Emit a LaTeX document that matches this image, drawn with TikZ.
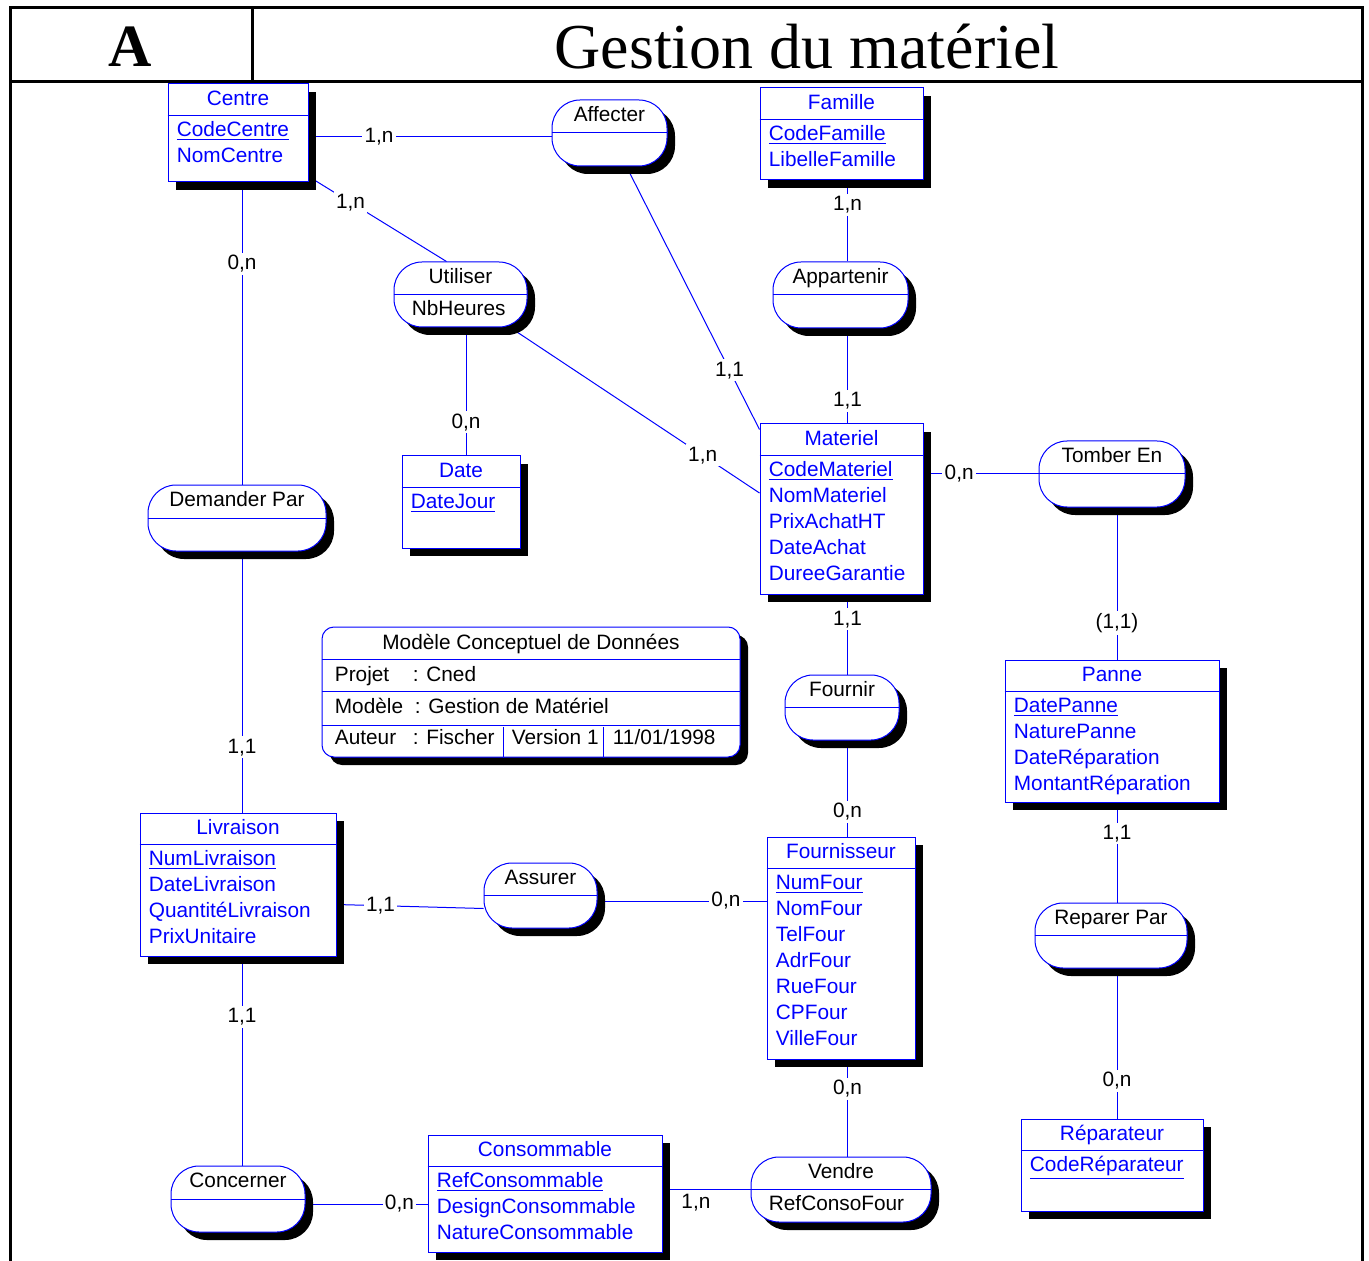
\documentclass[tikz,border=0pt]{standalone}
\usepackage{fontspec}
\setmainfont{Liberation Sans}
\newfontfamily\titrefont{Liberation Serif}
\usetikzlibrary{positioning, fit, shadows}
\pgfdeclarelayer{fond}
\pgfsetlayers{fond,main}
\tikzset{ombre/.style={drop shadow={shadow xshift=4pt, shadow yshift=-4pt, fill=black, opacity=1}}}
\tikzset{entbox/.style={draw=blue, fill=white, inner sep=0pt, line width=0.5pt, ombre}}
\tikzset{assbox/.style={entbox, rounded corners=14pt}}
\tikzset{trait/.style={draw=blue, line width=0.5pt}}
\tikzset{titre/.style={anchor=base, inner sep=0pt}}
\tikzset{attr/.style={anchor=base west, inner sep=0pt}}
\tikzset{card/.style={fill=white, inner sep=1.2pt, text=black}}
\tikzset{cadre/.style={line width=1.5pt}}
% entite : nom, coins, titre, attributs
\newcommand\entite[4]{
		\node[entbox, fit={#2}] (#1) {};
		\draw[trait] ([yshift=-16pt]#1.north west) -- ([yshift=-16pt]#1.north east);
		\node[titre, text=blue] (#1-t) at ([yshift=-11pt]#1.north) {#3};
		\foreach \a [count=\i] in {#4}
			\node[attr, text=blue] (#1-\i) at ([xshift=4.5pt, yshift={-(26.5+13*(\i-1))*1pt}]#1.north west) {\a};
	}
% association : [attribut], nom, coins, titre
\newcommand\association[4][]{
		\node[assbox, fit={#3}] (#2) {};
		\draw[trait] (#2.west) -- (#2.east);
		\node[titre] (#2-t) at ([yshift=-11pt]#2.north) {#4};
		\if\relax\detokenize{#1}\relax\else
			\node[attr] (#2-a) at ([xshift=9pt, yshift=-27pt]#2.north west) {#1};
		\fi
	}

\begin{document}
\begin{tikzpicture}[x=0.5pt, y=-0.5pt, font=\fontsize{10.4}{12.5}\selectfont]
		\useasboundingbox (0,0) rectangle (1369,1261);
		
		\draw[cadre] (10,1261) -- (10,8) -- (1362,8) -- (1362,1261);
		\draw[cadre] (10,82) -- (1362,82);
		\draw[cadre] (252,8) -- (252,82);
		\node[font=\titrefont\bfseries\fontsize{30}{36}\selectfont] (lettre) at (130,47) {A};
		\node[font=\titrefont\fontsize{32}{38}\selectfont] (entete) at (807,47) {Gestion du matériel};
		
		\entite{centre}{(168,84) (308,182)}{Centre}{\underline{CodeCentre}, NomCentre}
		\entite{famille}{(760,88) (923,180)}{Famille}{\underline{CodeFamille}, LibelleFamille}
		\entite{materiel}{(760,424) (923,594)}{Materiel}{\underline{CodeMateriel}, NomMateriel, PrixAchatHT, DateAchat, DureeGarantie}
		\entite{date}{(402,456) (520,548)}{Date}{\underline{DateJour}}
		\entite{panne}{(1005,660) (1219,802)}{Panne}{\underline{DatePanne}, NaturePanne, DateRéparation, MontantRéparation}
		\entite{livraison}{(140,813) (336,956)}{Livraison}{\underline{NumLivraison}, DateLivraison, QuantitéLivraison, PrixUnitaire}
		\entite{fournisseur}{(767,837) (915,1059)}{Fournisseur}{\underline{NumFour}, NomFour, TelFour, AdrFour, RueFour, CPFour, VilleFour}
		\entite{consommable}{(428,1135) (662,1252)}{Consommable}{\underline{RefConsommable}, DesignConsommable, NatureConsommable}
		\entite{reparateur}{(1021,1119) (1203,1211)}{Réparateur}{\underline{CodeRéparateur}}
		
		\association{affecter}{(552,100) (667,166)}{Affecter}
		\association[NbHeures]{utiliser}{(394,262) (527,327)}{Utiliser}
		\association{appartenir}{(773,262) (908,328)}{Appartenir}
		\association{dempar}{(148,485) (326,551)}{Demander Par}
		\association{tomber}{(1039,441) (1185,507)}{Tomber En}
		\association{fournir}{(785,675) (899,740)}{Fournir}
		\association{assurer}{(484,863) (597,928)}{Assurer}
		\association{reparer}{(1035,903) (1187,968)}{Reparer Par}
		\association{concerner}{(171,1166) (305,1232)}{Concerner}
		\association[RefConsoFour]{vendre}{(751,1157) (931,1222)}{Vendre}
		
		% cartouche
		\node[entbox, rounded corners=6pt, fit={(322,627) (740,757)}] (mcd) {};
		\draw[trait] ([yshift=-16.5pt]mcd.north west) -- ([yshift=-16.5pt]mcd.north east);
		\draw[trait] ([yshift=-32.5pt]mcd.north west) -- ([yshift=-32.5pt]mcd.north east);
		\draw[trait] ([yshift=-49.5pt]mcd.north west) -- ([yshift=-49.5pt]mcd.north east);
		\draw[trait] ([xshift=91pt]mcd.south west) -- ++(0,-31);
		\draw[trait] ([xshift=141pt]mcd.south west) -- ++(0,-31);
		\node[titre] (mcd-t) at ([yshift=-11.5pt]mcd.north) {Modèle Conceptuel de Données};
		\node[attr] (mcd-p) at ([xshift=6.5pt, yshift=-27.5pt]mcd.north west) {Projet};
		\node[attr] (mcd-pv) at ([xshift=45.5pt, yshift=-27.5pt]mcd.north west) {: Cned};
		\node[attr] (mcd-m) at ([xshift=6.5pt, yshift=-43.5pt]mcd.north west) {Modèle};
		\node[attr] (mcd-mv) at ([xshift=46.5pt, yshift=-43.5pt]mcd.north west) {: Gestion de Matériel};
		\node[attr] (mcd-a) at ([xshift=6.5pt, yshift=-59pt]mcd.north west) {Auteur};
		\node[attr] (mcd-av) at ([xshift=45.5pt, yshift=-59pt]mcd.north west) {: Fischer};
		\node[attr] (mcd-v) at ([xshift=95pt, yshift=-59pt]mcd.north west) {Version 1};
		\node[attr] (mcd-d) at ([xshift=145.5pt, yshift=-59pt]mcd.north west) {11/01/1998};
		
		\coordinate (axeG) at ([xshift=2pt]centre.south);
		\coordinate (axeM) at ([xshift=3pt]materiel.north);
		\coordinate (axeP) at ([xshift=2.5pt]panne.north);
		\coordinate (axeD) at ([xshift=2.5pt]date.north);
		\coordinate (pAff) at ([yshift=-2pt]affecter.west);
		\coordinate (pAss) at ([yshift=-2.75pt]assurer.east);
		\coordinate (pCon) at ([yshift=-2.5pt]concerner.east);
		
		\begin{pgfonlayer}{fond}
			\draw[trait] (pAff -| centre.east) -- node[card, pos=.29] (k1) {1,n} (pAff);
			\draw[trait] (centre.center) -- node[card, pos=.54] (k2) {1,n} ([xshift=-7pt]utiliser.north);
			\draw[trait] (axeG |- centre.south) -- node[card, pos=.27] (k3) {0,n} (axeG |- dempar.north);
			\draw[trait] (affecter.center) -- node[card, pos=.8] (k4) {1,1} ([yshift=-3pt]materiel.north west);
			\draw[trait] (utiliser.center) -- node[card, pos=.81] (k5) {1,n} ([yshift=8pt]materiel.west);
			\draw[trait] (axeD |- utiliser.south) -- node[card, pos=.74] (k6) {0,n} (axeD);
			\draw[trait] (axeM |- famille.south) -- node[card, pos=.3] (k7) {1,n} (axeM |- appartenir.north);
			\draw[trait] (axeM |- appartenir.south) -- node[card, pos=.76] (k8) {1,1} (axeM);
			\draw[trait] (tomber.west -| materiel.east) -- node[card, pos=.31] (k9) {0,n} (tomber.west);
			\draw[trait] (axeP |- tomber.south) -- node[card, pos=.76] (k10) {(1,1)} (axeP);
			\draw[trait] (axeM |- materiel.south) -- node[card, pos=.31] (k11) {1,1} (axeM |- fournir.north);
			\draw[trait] (axeM |- fournir.south) -- node[card, pos=.74] (k12) {0,n} (axeM |- fournisseur.north);
			\draw[trait] (axeP |- panne.south) -- node[card, pos=.31] (k13) {1,1} (axeP |- reparer.north);
			\draw[trait] (axeP |- reparer.south) -- node[card, pos=.75] (k14) {0,n} (axeP |- reparateur.north);
			\draw[trait] (axeG |- dempar.south) -- node[card, pos=.75] (k15) {1,1} (axeG |- livraison.north);
			\draw[trait] ([yshift=-10pt]livraison.east) -- node[card, pos=.3] (k16) {1,1} ([yshift=-6.5pt]assurer.west);
			\draw[trait] (pAss) -- node[card, pos=.76] (k17) {0,n} (pAss -| fournisseur.west);
			\draw[trait] (axeG |- livraison.south) -- node[card, pos=.29] (k18) {1,1} (axeG |- concerner.north);
			\draw[trait] (pCon) -- node[card, pos=.77] (k19) {0,n} (pCon -| consommable.west);
			\draw[trait] (vendre.west -| consommable.east) -- node[card, pos=.38, below=1pt, fill=none] (k20) {1,n} (vendre.west);
			\draw[trait] (axeM |- fournisseur.south) -- node[card, pos=.3] (k21) {0,n} (axeM |- vendre.north);
		\end{pgfonlayer}
	\end{tikzpicture}
\end{document}
